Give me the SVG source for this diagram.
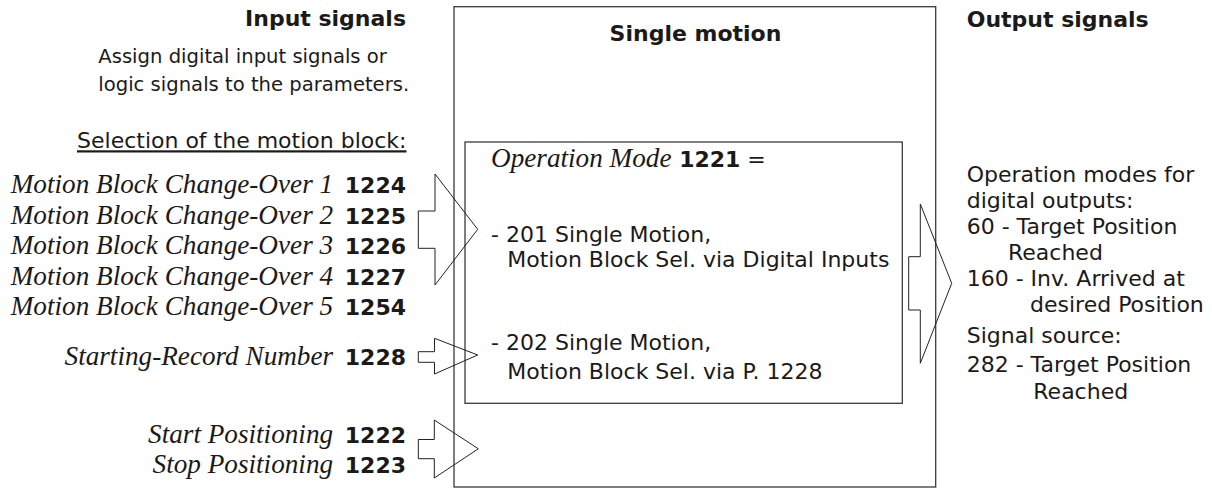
<svg xmlns="http://www.w3.org/2000/svg" width="1212" height="488" viewBox="0 0 1212 488">
<style>
.sans{font-family:"DejaVu Sans","Liberation Sans",sans-serif;font-size:22px;fill:#1a1a1a}
.b{font-weight:bold}
.it{font-family:"Liberation Serif","DejaVu Serif",serif;font-style:italic;font-size:27.2px;fill:#1a1a1a}
.box{fill:none;stroke:#3a3a3a;stroke-width:1.3}
.arrow{fill:none;stroke:#222;stroke-width:1}
</style>
<rect width="1212" height="488" fill="#fff"/>

<g id="single-motion">
  <rect class="box" x="454" y="6.7" width="481.7" height="480.3"/>
  <text class="sans b" x="695.5" y="40.5" text-anchor="middle">Single motion</text>
</g>

<g id="operation-mode">
  <rect class="box" x="465" y="142" width="437.3" height="261.3"/>
  <text x="491" y="166.7"><tspan class="it">Operation Mode</tspan><tspan class="sans b"> 1221</tspan><tspan class="sans"> =</tspan></text>
  <text class="sans" x="491" y="241.5">- 201 Single Motion,</text>
  <text class="sans" x="507.3" y="266.7">Motion Block Sel. via Digital Inputs</text>
  <text class="sans" x="491" y="350">- 202 Single Motion,</text>
  <text class="sans" x="507.3" y="379">Motion Block Sel. via P. 1228</text>
</g>

<g id="input-signals">
  <text class="sans b" x="406" y="26" text-anchor="end">Input signals</text>
  <text class="sans" x="98.3" y="63.3" style="font-size:19.6px">Assign digital input signals or</text>
  <text class="sans" x="98.3" y="90.7" style="font-size:19.6px">logic signals to the parameters.</text>
  <text class="sans" x="406.5" y="148.3" text-anchor="end" text-decoration="underline">Selection of the motion block:</text>
  <text x="406" y="193.3" text-anchor="end"><tspan class="it">Motion Block Change-Over 1</tspan><tspan class="sans b" dx="4"> 1224</tspan></text>
  <text x="406" y="223.7" text-anchor="end"><tspan class="it">Motion Block Change-Over 2</tspan><tspan class="sans b" dx="4"> 1225</tspan></text>
  <text x="406" y="254.1" text-anchor="end"><tspan class="it">Motion Block Change-Over 3</tspan><tspan class="sans b" dx="4"> 1226</tspan></text>
  <text x="406" y="284.6" text-anchor="end"><tspan class="it">Motion Block Change-Over 4</tspan><tspan class="sans b" dx="4"> 1227</tspan></text>
  <text x="406" y="315" text-anchor="end"><tspan class="it">Motion Block Change-Over 5</tspan><tspan class="sans b" dx="4"> 1254</tspan></text>
  <text x="406" y="365" text-anchor="end"><tspan class="it">Starting-Record Number</tspan><tspan class="sans b" dx="4"> 1228</tspan></text>
  <text x="406" y="443.3" text-anchor="end"><tspan class="it">Start Positioning</tspan><tspan class="sans b" dx="4"> 1222</tspan></text>
  <text x="406" y="472.7" text-anchor="end"><tspan class="it">Stop Positioning</tspan><tspan class="sans b" dx="4"> 1223</tspan></text>
</g>

<g id="output-signals">
  <text class="sans b" x="966.7" y="26.5">Output signals</text>
  <text class="sans" x="966.7" y="181.7">Operation modes for</text>
  <text class="sans" x="966.7" y="208">digital outputs:</text>
  <text class="sans" x="966.7" y="234">60 - Target Position</text>
  <text class="sans" x="1008" y="260">Reached</text>
  <text class="sans" x="966.7" y="285.5">160 - Inv. Arrived at</text>
  <text class="sans" x="1030" y="311.7">desired Position</text>
  <text class="sans" x="966.7" y="343.3">Signal source:</text>
  <text class="sans" x="966.7" y="371.7">282 - Target Position</text>
  <text class="sans" x="1033.3" y="399.3">Reached</text>
</g>

<g id="connectors">
  <polygon class="arrow" points="418.3,211 435,211 435,174 477.7,229.3 435,285 435,248.3 418.3,248.3"/>
  <polygon class="arrow" points="418.3,351.7 434.5,351.7 434.5,338.3 477.7,355 434.5,374 434.5,362.3 418.3,362.3"/>
  <polygon class="arrow" points="418.3,439.5 434.3,439.5 434.3,420 478.3,448.8 434.3,478 434.3,458.7 418.3,458.7"/>
  <polygon class="arrow" points="908.7,256.7 920.3,256.7 920.3,204 951.7,283.3 920.3,363.3 920.3,310 908.7,310"/>
</g>
</svg>
